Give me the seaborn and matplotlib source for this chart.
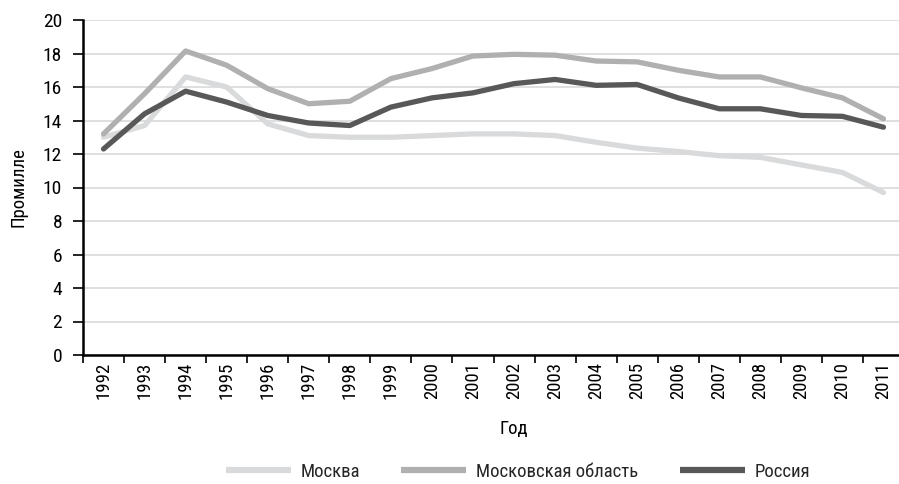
import numpy as np
import pandas as pd
import matplotlib
matplotlib.use("Agg")
import matplotlib.pyplot as plt
from matplotlib.ticker import FixedLocator, NullFormatter
import seaborn as sns

years = [str(y) for y in range(1992, 2012)]
moscow = [13.0, 13.7, 16.6, 16.0, 13.8, 13.1, 13.0, 13.0, 13.1, 13.2,
          13.2, 13.1, 12.7, 12.35, 12.15, 11.9, 11.8, 11.35, 10.9, 9.7]
moscow_region = [13.2, 15.6, 18.15, 17.3, 15.9, 15.0, 15.15, 16.5, 17.1, 17.85,
                 17.95, 17.9, 17.55, 17.5, 17.0, 16.6, 16.6, 15.95, 15.35, 14.1]
russia = [12.3, 14.4, 15.75, 15.1, 14.3, 13.85, 13.7, 14.8, 15.35, 15.65,
          16.2, 16.45, 16.1, 16.15, 15.35, 14.7, 14.7, 14.3, 14.25, 13.6]
series_names = ["Москва", "Московская область", "Россия"]
series_colors = ["#d9dadb", "#b0b0b1", "#585858"]
y_ticks = list(range(0, 21, 2))

sns.set_theme(style="white")
plt.rcParams["font.family"] = ["Roboto Condensed", "DejaVu Sans"]
plt.rcParams["font.stretch"] = "condensed"

rows = []
for name, vals in zip(series_names, [moscow, moscow_region, russia]):
    for i, v in enumerate(vals):
        rows.append({"idx": i, "year": years[i], "value": v, "series": name})
df = pd.DataFrame(rows)

fig = plt.figure(figsize=(8.99, 4.84), dpi=100)
ax = fig.add_axes([83 / 899, 129 / 484, 821 / 899, 335 / 484])

sns.lineplot(data=df, x="idx", y="value", hue="series", hue_order=series_names,
             palette=dict(zip(series_names, series_colors)), linewidth=3.8,
             ax=ax, legend=True)
for ln in ax.get_lines():
    ln.set_solid_capstyle("round")
    ln.set_solid_joinstyle("round")

FS = 13.5
ax.set_xlim(-0.5, len(years) - 0.5)
ax.set_ylim(0, 20)
ax.set_yticks(y_ticks)
ax.set_yticklabels([str(t) for t in y_ticks], fontsize=FS + 0.5)
ax.set_xticks(range(len(years)))
ax.set_xticklabels(years, rotation=90, fontsize=FS)
ax.xaxis.set_minor_locator(FixedLocator(np.arange(-0.5, len(years), 1.0)))
ax.xaxis.set_minor_formatter(NullFormatter())
ax.tick_params(axis="x", which="major", length=0, pad=5, colors="black")
ax.tick_params(axis="x", which="minor", length=6, width=1.2, direction="out",
               color="black", bottom=True)
ax.tick_params(axis="y", length=7, width=1.2, direction="out", color="black",
               left=True, pad=8, labelcolor="black")

ax.grid(axis="y", color="#d9d9d9", linewidth=1.2)
ax.grid(axis="x", visible=False)
ax.set_axisbelow(True)
for s in ["top", "right"]:
    ax.spines[s].set_visible(False)
for s in ["left", "bottom"]:
    ax.spines[s].set_color("black")
    ax.spines[s].set_linewidth(1.8)
ax.spines["bottom"].set_zorder(5)

ax.set_ylabel("Промилле", fontsize=FS, color="black")
ax.yaxis.set_label_coords(-56 / 821, 0.5)
ax.set_xlabel("Год", fontsize=FS, color="black")
ax.xaxis.set_label_coords((514 - 83) / 821, -(420 - 355) / 335)

handles, labels = ax.get_legend_handles_labels()
ax.get_legend().remove()
leg = fig.legend(handles, labels, loc="center", bbox_to_anchor=(518 / 899, 1 - 472 / 484),
                 ncol=3, frameon=False, fontsize=FS, handlelength=3.47,
                 handletextpad=0.53, columnspacing=2.2)
for h in leg.get_lines():
    h.set_linewidth(4.5)
    h.set_solid_capstyle("butt")

fig.savefig("out.png", dpi=100)
